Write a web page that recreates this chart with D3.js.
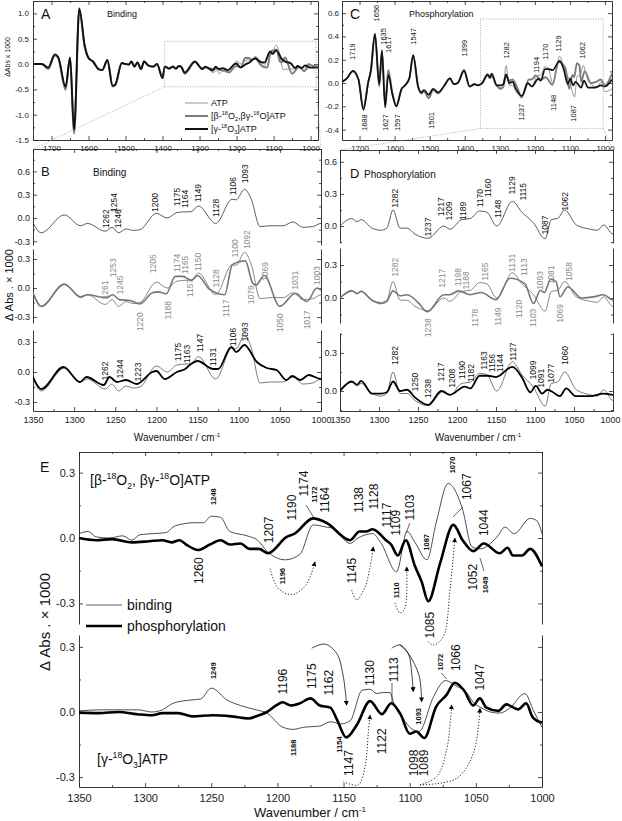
<!DOCTYPE html>
<html><head><meta charset="utf-8">
<script src="https://cdn.jsdelivr.net/npm/d3@7"></script>
<style>
body{margin:0;background:#fff}
svg text{font-family:"Liberation Sans",Arial,sans-serif}
</style></head>
<body><svg id="fig" width="622" height="821"></svg>
<script>
// ---------- data (ΔAbs x 1000 against wavenumber) ----------
// full-range part, 1750..1356 cm-1
const bindAtpHi = [[1750,0.0],[1726,0.0],[1709,-0.08],[1691,0.18],[1682,0.13],[1662,-0.48],[1650,0.12],[1639,-1.34],[1625,1.08],[1610,0.34],[1600,0.12],[1588,0.05],[1573,-0.10],[1563,-0.12],[1549,0.07],[1535,-0.45],[1528,-0.42],[1510,0.02],[1500,0.0],[1491,-0.01],[1484,0.05],[1476,-0.05],[1468,0.03],[1458,-0.10],[1450,0.05],[1438,-0.03],[1425,-0.05],[1415,0.0],[1400,-0.27],[1394,-0.05],[1382,-0.09],[1372,-0.05],[1364,-0.09],[1356,-0.04]];
const bindBetaHi = [[1750,0.0],[1726,0.0],[1709,-0.10],[1691,0.17],[1682,0.12],[1662,-0.51],[1650,0.12],[1639,-1.37],[1625,1.06],[1610,0.33],[1600,0.12],[1588,0.05],[1573,-0.10],[1563,-0.12],[1549,0.07],[1535,-0.44],[1528,-0.42],[1510,0.02],[1500,0.0],[1491,-0.01],[1484,0.05],[1476,-0.05],[1468,0.03],[1458,-0.10],[1450,0.05],[1438,-0.03],[1425,-0.05],[1415,0.0],[1400,-0.27],[1394,-0.05],[1382,-0.09],[1372,-0.05],[1364,-0.09],[1356,-0.04]];
const bindGammaHi = [[1750,0.0],[1726,0.0],[1709,-0.07],[1691,0.19],[1682,0.14],[1662,-0.45],[1650,0.13],[1639,-1.30],[1625,1.10],[1610,0.35],[1600,0.12],[1588,0.05],[1573,-0.10],[1563,-0.12],[1549,0.08],[1535,-0.43],[1528,-0.41],[1510,0.02],[1500,0.0],[1491,-0.01],[1484,0.05],[1476,-0.05],[1468,0.03],[1458,-0.10],[1450,0.05],[1438,-0.03],[1425,-0.05],[1415,0.0],[1400,-0.28],[1394,-0.05],[1382,-0.09],[1372,-0.05],[1364,-0.09],[1356,-0.04]];

const phosAtpHi = [[1750,0.01],[1736,0.04],[1719,0.105],[1703,0.03],[1689,-0.22],[1675,0.01],[1668,0.10],[1656,0.43],[1644,-0.02],[1636,0.27],[1627,-0.19],[1618,0.08],[1606,-0.10],[1595,-0.20],[1580,-0.05],[1570,-0.02],[1558,0.04],[1547,0.24],[1533,-0.03],[1524,-0.08],[1516,-0.06],[1503,-0.11],[1490,-0.05],[1476,-0.09],[1460,-0.03],[1442,0.04],[1431,-0.01],[1420,0.0],[1402,0.11],[1386,-0.03],[1372,-0.01],[1362,-0.02]];
const phosBetaHi = [[1750,0.01],[1736,0.04],[1719,0.10],[1703,0.03],[1689,-0.21],[1675,0.01],[1668,0.10],[1656,0.42],[1644,-0.03],[1636,0.26],[1627,-0.17],[1618,0.11],[1606,-0.09],[1595,-0.19],[1580,-0.05],[1570,-0.02],[1558,0.04],[1547,0.23],[1533,-0.03],[1524,-0.09],[1516,-0.07],[1503,-0.13],[1490,-0.06],[1476,-0.09],[1460,-0.03],[1442,0.04],[1431,-0.01],[1420,0.0],[1402,0.10],[1386,-0.03],[1372,-0.01],[1362,-0.02]];
const phosGammaHi = [[1750,0.01],[1736,0.04],[1719,0.105],[1703,0.03],[1689,-0.23],[1675,0.01],[1668,0.10],[1656,0.42],[1644,-0.01],[1636,0.28],[1627,-0.21],[1618,0.07],[1606,-0.10],[1595,-0.20],[1580,-0.05],[1570,-0.02],[1558,0.04],[1547,0.24],[1533,-0.03],[1524,-0.08],[1516,-0.06],[1503,-0.10],[1490,-0.05],[1476,-0.08],[1460,-0.03],[1442,0.04],[1431,-0.01],[1420,0.0],[1402,0.11],[1386,-0.03],[1372,-0.01],[1362,-0.02]];

// zoomed part, 1350..980 cm-1
const bindAtp = [[1350,-0.06],[1340,-0.19],[1312,0.04],[1292,-0.10],[1284,-0.07],[1262,-0.17],[1254,-0.12],[1246,-0.19],[1237,-0.14],[1228,-0.16],[1220,-0.15],[1200,0.06],[1187,0.0],[1175,0.07],[1164,0.08],[1158,0.08],[1149,0.155],[1128,-0.07],[1108,0.24],[1103,0.235],[1093,0.37],[1085,0.25],[1074,-0.11],[1062,-0.10],[1046,-0.10],[1034,-0.05],[1022,-0.12],[1010,-0.11],[1000,-0.07],[980,-0.07]];
const bindBeta = [[1350,-0.05],[1340,-0.19],[1312,0.04],[1292,-0.09],[1284,-0.07],[1261,-0.10],[1253,-0.07],[1245,-0.12],[1232,-0.13],[1220,-0.165],[1205,-0.05],[1198,-0.04],[1188,-0.06],[1177,0.12],[1168,0.12],[1157,0.08],[1150,0.13],[1136,-0.01],[1128,-0.05],[1117,-0.07],[1108,0.24],[1100,0.27],[1092,0.28],[1083,0.05],[1079,0.03],[1069,0.13],[1050,-0.19],[1031,-0.055],[1017,-0.14],[1005,0.0],[1000,-0.02],[980,-0.05]];
const bindGamma = [[1350,-0.05],[1340,-0.17],[1313,0.05],[1293,-0.10],[1285,-0.05],[1264,-0.13],[1257,-0.05],[1248,-0.10],[1237,-0.08],[1224,-0.12],[1205,0.0],[1200,0.01],[1190,-0.07],[1175,0.0],[1165,0.03],[1158,0.08],[1150,0.11],[1131,0.03],[1125,0.03],[1109,0.25],[1103,0.2],[1093,0.27],[1078,0.10],[1066,0.04],[1054,0.02],[1042,-0.08],[1035,-0.04],[1025,-0.08],[1015,-0.03],[1000,-0.07],[980,-0.07]];

const phosAtp = [[1350,0.0],[1335,0.07],[1328,0.04],[1323,0.06],[1309,-0.02],[1297,-0.04],[1290,-0.02],[1282,0.15],[1273,-0.02],[1264,-0.02],[1254,-0.075],[1237,-0.115],[1217,0.0],[1209,-0.03],[1194,0.06],[1183,0.07],[1171,0.14],[1162,0.13],[1149,0.0],[1129,0.23],[1117,0.13],[1102,0.03],[1087,-0.12],[1079,0.06],[1071,0.07],[1062,0.15],[1047,0.01],[1029,-0.03],[1020,-0.04],[1012,0.01],[1000,-0.075],[980,-0.05]];
const phosBeta = [[1350,0.0],[1335,0.065],[1328,0.04],[1323,0.06],[1309,-0.02],[1297,-0.05],[1290,-0.03],[1282,0.065],[1273,0.02],[1264,0.03],[1250,-0.04],[1238,-0.125],[1217,0.03],[1209,0.03],[1198,0.065],[1183,0.03],[1169,0.05],[1150,-0.015],[1132,0.18],[1113,0.13],[1102,-0.05],[1093,0.07],[1088,0.05],[1080,0.17],[1073,0.15],[1068,0.01],[1058,0.10],[1040,0.0],[1025,0.01],[1012,0.03],[1000,-0.02],[980,0.08]];
const phosGamma = [[1350,0.0],[1335,0.075],[1328,0.05],[1323,0.08],[1309,-0.02],[1297,-0.02],[1290,-0.01],[1282,0.075],[1273,0.0],[1264,0.01],[1254,-0.05],[1237,-0.11],[1220,0.0],[1209,-0.03],[1190,0.035],[1183,0.02],[1171,0.12],[1160,0.12],[1150,0.11],[1129,0.19],[1117,0.11],[1106,-0.01],[1099,0.04],[1091,-0.02],[1084,0.01],[1077,-0.01],[1068,-0.04],[1060,0.02],[1048,-0.04],[1029,-0.04],[1012,-0.02],[1000,-0.03],[980,0.03]];

// panel E
const eBetaBind = [[1350,0.02],[1343,0.03],[1337,0.005],[1327,0.0],[1317,0.01],[1310,-0.01],[1304,0.015],[1294,0.02],[1284,0.025],[1279,0.05],[1271,0.065],[1264,0.07],[1256,0.07],[1250,0.10],[1243,0.095],[1236,0.03],[1223,0.01],[1215,-0.01],[1208,-0.06],[1194,-0.10],[1183,-0.075],[1173,0.06],[1163,0.05],[1158,0.045],[1145,-0.025],[1139,0.0],[1128,0.02],[1122,-0.02],[1110,-0.155],[1102,0.03],[1096,-0.02],[1087,-0.10],[1080,0.07],[1071,0.25],[1060,0.13],[1053,-0.04],[1047,-0.05],[1034,0.005],[1028,0.05],[1021,0.02],[1009,0.09],[1004,0.08],[1000,0.02]];
const eBetaPhos = [[1350,0.0],[1337,-0.01],[1325,-0.005],[1310,-0.02],[1297,-0.015],[1287,-0.01],[1280,-0.02],[1274,-0.01],[1269,-0.03],[1260,-0.055],[1251,-0.03],[1243,-0.01],[1236,-0.03],[1228,-0.025],[1221,-0.05],[1214,-0.05],[1207,-0.07],[1193,0.005],[1187,0.02],[1173,0.09],[1163,0.07],[1145,-0.01],[1138,0.03],[1133,0.03],[1128,0.04],[1118,-0.01],[1114,-0.03],[1109,-0.08],[1103,-0.01],[1096,-0.13],[1091,-0.20],[1086,-0.29],[1077,-0.115],[1067,0.06],[1060,-0.01],[1052,-0.06],[1044,-0.025],[1032,-0.07],[1026,-0.045],[1022,-0.08],[1015,-0.08],[1009,-0.05],[1000,-0.13]];
const eGammaBind = [[1350,0.005],[1335,0.01],[1315,0.01],[1305,0.01],[1295,0.0],[1287,0.01],[1279,0.04],[1266,0.055],[1258,0.06],[1250,0.11],[1238,0.055],[1228,0.03],[1216,0.01],[1208,-0.005],[1196,-0.07],[1188,-0.08],[1180,-0.07],[1168,-0.065],[1160,-0.045],[1152,-0.055],[1145,-0.04],[1136,0.10],[1130,0.105],[1125,0.085],[1120,0.09],[1115,0.09],[1112,0.04],[1107,-0.01],[1100,-0.07],[1093,-0.09],[1082,0.07],[1073,0.145],[1065,0.12],[1057,0.09],[1052,0.045],[1046,0.02],[1039,0.0],[1032,-0.005],[1024,0.02],[1013,0.085],[1006,0.0],[1000,-0.07]];
const eGammaPhos = [[1350,-0.003],[1335,-0.005],[1320,0.0],[1306,-0.01],[1295,-0.015],[1287,-0.005],[1275,-0.005],[1264,-0.02],[1249,-0.015],[1235,-0.02],[1222,-0.03],[1216,-0.02],[1208,0.0],[1201,0.03],[1196,0.045],[1190,0.03],[1183,0.04],[1175,0.063],[1168,0.03],[1160,0.02],[1155,-0.035],[1148,-0.117],[1140,-0.06],[1130,0.05],[1121,-0.01],[1114,0.04],[1107,-0.01],[1100,-0.10],[1095,-0.09],[1089,-0.12],[1080,0.025],[1072,0.08],[1066,0.135],[1059,0.10],[1052,0.03],[1047,0.063],[1042,0.02],[1033,0.005],[1027,0.035],[1018,0.012],[1012,0.04],[1007,-0.025],[1000,-0.05]];

// band labels: [text, wavenumber, value at label centre]
const labelsC = [["1719",1719,0.27],["1656",1653,0.60],["1635",1633,0.40],["1617",1616,0.33],["1547",1545,0.40],["1399",1402,0.30],["1282",1282,0.28],["1194",1194,0.155],["1170",1171,0.27],["1129",1134,0.34],["1062",1063,0.28],["1688",1687,-0.34],["1627",1625,-0.34],["1597",1593,-0.34],["1501",1496,-0.32],["1237",1239,-0.25],["1148",1148,-0.17],["1087",1091,-0.26]];
const labelsB1 = [["1262",1261,-0.01],["1254",1252,0.2],["1246",1247,-0.01],["1200",1202,0.2],["1175",1175,0.27],["1164",1165,0.245],["1149",1149,0.32],["1128",1128,0.13],["1106",1107,0.41],["1093",1092,0.57]];
const labelsB2 = [["1261",1262,-0.02],["1253",1253,0.21],["1245",1244,0.03],["1220",1220,-0.35],["1205",1204,0.25],["1188",1186,-0.23],["1174",1175,0.26],["1165",1165,0.24],["1150",1150,0.27],["1157",1159,0.0],["1128",1128,0.10],["1117",1116,-0.21],["1100",1105,0.41],["1092",1090,0.50],["1079",1085,-0.07],["1069",1068,0.17],["1050",1050,-0.36],["1031",1032,0.08],["1017",1017,-0.33],["1003",1005,0.13]];
const labelsB3 = [["1262",1262,0.01],["1244",1244,0.03],["1223",1223,0.0],["1175",1174,0.2],["1163",1163,0.18],["1147",1147,0.29],["1131",1131,0.15],["1106",1107,0.35],["1093",1092,0.40]];
const labelsD1 = [["1282",1280,0.26],["1237",1237,-0.01],["1217",1220,0.18],["1209",1210,0.14],["1189",1192,0.14],["1170",1171,0.26],["1160",1160,0.355],["1148",1147,0.16],["1129",1129,0.38],["1115",1116,0.32],["1087",1087,0.01],["1062",1062,0.23]];
const labelsD2 = [["1282",1280,0.28],["1238",1237,-0.27],["1217",1219,0.18],["1198",1199,0.19],["1188",1188,0.16],["1165",1164,0.24],["1178",1177,-0.18],["1149",1147,-0.17],["1131",1130,0.32],["1113",1114,0.28],["1120",1121,-0.10],["1103",1102,-0.18],["1093",1093,0.16],["1081",1080,0.21],["1069",1068,-0.14],["1058",1057,0.24]];
const labelsD3 = [["1282",1280,0.28],["1250",1254,0.07],["1238",1237,0.02],["1217",1220,0.15],["1208",1207,0.10],["1190",1194,0.165],["1182",1182,0.14],["1163",1166,0.24],["1156",1155,0.22],["1144",1145,0.22],["1127",1128,0.31],["1099",1102,0.165],["1091",1092,0.10],["1077",1079,0.14],["1060",1062,0.28]];
const labelsE1 = [["1207",1206,0.037],["1190",1189,0.14],["1174",1180,0.25],["1164",1164,0.175],["1138",1138,0.175],["1128",1127,0.19],["1117",1117,0.105],["1109",1110,0.07],["1103",1100,0.14],["1145",1144,-0.15],["1085",1085,-0.40],["1067",1057,0.235],["1044",1044,0.07],["1052",1052,-0.18],["1260",1259,-0.15]];
const smallE1 = [["1248",1248,0.19],["1172",1172,0.2],["1110",1110,-0.24],["1087",1087,-0.02],["1070",1068,0.335],["1049",1043,-0.215],["1196",1196,-0.175]];
const labelsE2 = [["1196",1196,0.14],["1175",1174,0.165],["1162",1161,0.135],["1130",1130,0.18],["1113",1112,0.195],["1066",1065,0.25],["1047",1047,0.16],["1147",1146,-0.235],["1122",1121,-0.135],["1098",1097,-0.235],["1089",1089,-0.235]];
const smallE2 = [["1249",1248.5,0.19],["1072",1077,0.23],["1188",1188,-0.165],["1154",1153,-0.15],["1093",1093,-0.02]];

// leader lines [wn1, v1, wn2, v2]
const leadersE1 = [[1178.4,0.151,1172.4,0.092],[1099.8,0.069,1102.8,0.023],[1059.8,0.142,1067.3,0.096],[1046.9,-0.092,1043.9,-0.151]];
const leadersE2 = [[1113.4,0.134,1113.4,0.046],[1075.9,0.18,1072.1,0.152]];

// arrows (dotted / solid) in E
const arrowsE1 = [
  [[1205.6,-0.14],[1199.6,-0.23],[1189,-0.26],[1178.4,-0.215],[1171.6,-0.11]],
  [[1143.9,-0.239],[1140.1,-0.284],[1133.8,-0.225],[1130,-0.133],[1127.5,-0.041]],
  [[1111.2,-0.298],[1107.4,-0.344],[1103.6,-0.321],[1102.3,-0.133]],
  [[1086,-0.476],[1082.2,-0.491],[1074.6,-0.453],[1069.6,-0.239],[1065.8,0.0]]
];
const solidArrowsE2 = [
  [[1174.1,0.294],[1164.1,0.313],[1155.2,0.27],[1150.2,0.163],[1147.7,0.032]],
  [[1113.6,0.294],[1107.4,0.309],[1101.1,0.27],[1098.5,0.178],[1097.3,0.094]],
  [[1107.4,0.309],[1101.1,0.27],[1093,0.17],[1091,0.047]]
];
const dottedArrowsE2 = [
  [[1150.2,-0.321],[1138.9,-0.336],[1133.8,-0.252],[1131.3,-0.098],[1130,-0.014]],
  [[1092.3,-0.336],[1079.6,-0.298],[1072.1,-0.175],[1068.3,0.032]],
  [[1092.3,-0.336],[1064.5,-0.306],[1051.9,-0.19],[1046.9,0.017]]
];

// ticks
const wideMajor = [1700,1600,1500,1400,1300,1200,1100,1000];
const wideMinor = [1750,1650,1550,1450,1350,1250,1150,1050];
const zoomMajor = [1350,1300,1250,1200,1150,1100,1050,1000];
const zoomMinor = [1325,1275,1225,1175,1125,1075,1025];
const ticksAy = [-1.5,-1.0,-0.5,0.0,0.5,1.0];
const minorAy = [-1.25,-0.75,-0.25,0.25,0.75];
const ticksCy = [-0.4,-0.2,0.0,0.2,0.4,0.6];
const minorCy = [-0.3,-0.1,0.1,0.3,0.5];

// ---------- drawing ----------
const svg = d3.select("#fig");
const NARROW = '"Liberation Sans Narrow","Liberation Sans",Arial,sans-serif';
const SANS = '"Liberation Sans",Arial,sans-serif';
const f1 = v => v.toFixed(1);

const defs = svg.append("defs");
defs.append("marker").attr("id", "ah").attr("viewBox", "0 0 8 8")
  .attr("refX", 7).attr("refY", 4).attr("markerWidth", 5).attr("markerHeight", 5)
  .attr("orient", "auto").attr("markerUnits", "userSpaceOnUse")
  .append("path").attr("d", "M0,0L8,4L0,8z").attr("fill", "#000");

function clip(id, x0, x1) {
  defs.append("clipPath").attr("id", id).append("rect")
    .attr("x", x0).attr("y", 0).attr("width", x1 - x0).attr("height", 821);
}
function yScale(zero, k, top, bottom) {
  return d3.scaleLinear().domain([(zero - bottom) / k, (zero - top) / k]).range([bottom, top]);
}
function styleAxis(a, fs, fam) {
  a.attr("font-size", fs).attr("font-family", fam);
  a.selectAll("path.domain").attr("stroke", "#222").attr("stroke-width", 0.9);
  a.selectAll("line").attr("stroke", "#222").attr("stroke-width", 0.8);
  a.selectAll("text").attr("fill", "#222");
}
function hAxes(g, x, yb, yt, major, minor, fs, fam, pad) {
  const b = g.append("g").attr("transform", `translate(0,${yb})`)
    .call(d3.axisBottom(x).tickValues(major).tickSizeInner(-4).tickSizeOuter(0).tickPadding(pad).tickFormat(d => d));
  b.append("g").call(d3.axisBottom(x).tickValues(minor).tickSizeInner(-2).tickSizeOuter(0).tickFormat(""))
    .select(".domain").remove();
  styleAxis(b, fs, fam);
  const t = g.append("g").attr("transform", `translate(0,${yt})`)
    .call(d3.axisTop(x).tickValues(major).tickSizeInner(-4).tickSizeOuter(0).tickFormat(""));
  t.append("g").call(d3.axisTop(x).tickValues(minor).tickSizeInner(-2).tickSizeOuter(0).tickFormat(""))
    .select(".domain").remove();
  styleAxis(t, fs, fam);
  return b;
}
function vAxes(g, y, xl, xr, major, minor, fs, fam, pad) {
  const l = g.append("g").attr("transform", `translate(${xl},0)`)
    .call(d3.axisLeft(y).tickValues(major).tickSizeInner(-4).tickSizeOuter(0).tickPadding(pad).tickFormat(f1));
  l.append("g").call(d3.axisLeft(y).tickValues(minor).tickSizeInner(-2).tickSizeOuter(0).tickFormat(""))
    .select(".domain").remove();
  styleAxis(l, fs, fam);
  const r = g.append("g").attr("transform", `translate(${xr},0)`)
    .call(d3.axisRight(y).tickValues(major).tickSizeInner(-4).tickSizeOuter(0).tickFormat(""));
  r.append("g").call(d3.axisRight(y).tickValues(minor).tickSizeInner(-2).tickSizeOuter(0).tickFormat(""))
    .select(".domain").remove();
  styleAxis(r, fs, fam);
}
function drawLine(g, x, y, data, color, w, clipId) {
  g.append("path").datum(data)
    .attr("fill", "none").attr("stroke", color).attr("stroke-width", w)
    .attr("stroke-linejoin", "round")
    .attr("clip-path", clipId ? `url(#${clipId})` : null)
    .attr("d", d3.line().x(d => x(d[0])).y(d => y(d[1])).curve(d3.curveMonotoneX));
}
function vLabels(g, x, y, list, fs, color, fam, weight) {
  g.selectAll(null).data(list).join("text")
    .attr("transform", d => `translate(${x(d[1])},${y(d[2])}) rotate(-90)`)
    .attr("text-anchor", "middle").attr("dominant-baseline", "central")
    .attr("font-size", fs).attr("font-family", fam).attr("fill", color)
    .attr("font-weight", weight || null)
    .text(d => d[0]);
}
function rich(g, x, y, parts, fs, anchor) {
  const t = g.append("text").attr("x", x).attr("y", y).attr("font-size", fs)
    .attr("text-anchor", anchor || "start").attr("fill", "#111");
  let off = 0;
  parts.forEach(p => {
    let txt = p, shift = 0, small = false;
    if (Array.isArray(p)) { txt = p[0]; shift = p[1] === "sup" ? -0.4 * fs : 0.25 * fs; small = true; }
    t.append("tspan").attr("dy", shift - off).attr("font-size", small ? fs * 0.62 : fs).text(txt);
    off = shift;
  });
  return t;
}
function plainText(g, x, y, txt, fs, fam, extra) {
  const t = g.append("text").attr("x", x).attr("y", y).attr("font-size", fs)
    .attr("font-family", fam).attr("fill", "#111").text(txt);
  if (extra) extra(t);
  return t;
}
const betaName = ["[β-", ["18","sup"], "O", ["2","sub"], ",βγ-", ["18","sup"], "O]ATP"];
const betaNameE = ["[β-", ["18","sup"], "O", ["2","sub"], ", βγ-", ["18","sup"], "O]ATP"];
const gammaName = ["[γ-", ["18","sup"], "O", ["3","sub"], "]ATP"];

// ---- panel A ----
const gA = svg.append("g");
const xA = d3.scaleLinear().domain([1750, 980]).range([33, 318]);
const yA = d3.scaleLinear().domain([-1.5, 1.245]).range([140, 1]);
clip("clipA", 33, 318);
hAxes(gA, xA, 140, 1, wideMajor, wideMinor, 8, SANS, 5);
vAxes(gA, yA, 33, 318, ticksAy, minorAy, 8, SANS, 4);
drawLine(gA, xA, yA, bindBetaHi.concat(bindBeta), "#7d7d7d", 2.0, "clipA");
drawLine(gA, xA, yA, bindAtpHi.concat(bindAtp), "#8c8c8c", 0.9, "clipA");
drawLine(gA, xA, yA, bindGammaHi.concat(bindGamma), "#111", 1.9, "clipA");
gA.append("rect").attr("x", xA(1395)).attr("y", yA(0.45))
  .attr("width", xA(985) - xA(1395)).attr("height", yA(-0.45) - yA(0.45))
  .attr("fill", "none").attr("stroke", "#999").attr("stroke-width", 0.8).attr("stroke-dasharray", "1,1.5");
plainText(gA, 41, 19, "A", 14, SANS);
plainText(gA, 107, 17, "Binding", 9, SANS);
plainText(gA, 0, 0, "ΔAbs x 1000", 7, SANS, t => t.attr("transform", "translate(10,57) rotate(-90)").attr("text-anchor", "middle"));
[["#8c8c8c", 0.9, 103, ["ATP"]], ["#7d7d7d", 2.0, 116, betaName], ["#111", 2.0, 129, gammaName]].forEach(([c, w, yy, parts]) => {
  gA.append("line").attr("x1", 185).attr("x2", 208).attr("y1", yy).attr("y2", yy).attr("stroke", c).attr("stroke-width", w);
  rich(gA, 211, yy + 3, parts, 9);
});

// ---- panel C ----
const gC = svg.append("g");
const xC = d3.scaleLinear().domain([1750, 980]).range([342, 612]);
const yC = d3.scaleLinear().domain([-0.489, 0.704]).range([140, 1]);
clip("clipC", 342, 612);
hAxes(gC, xC, 140, 1, wideMajor, wideMinor, 8, SANS, 5);
vAxes(gC, yC, 342, 612, ticksCy, minorCy, 8, SANS, 3);
drawLine(gC, xC, yC, phosBetaHi.concat(phosBeta), "#7d7d7d", 1.9, "clipC");
drawLine(gC, xC, yC, phosAtpHi.concat(phosAtp), "#8c8c8c", 0.9, "clipC");
drawLine(gC, xC, yC, phosGammaHi.concat(phosGamma), "#111", 1.7, "clipC");
gC.append("rect").attr("x", xC(1355)).attr("y", yC(0.55))
  .attr("width", xC(1005) - xC(1355)).attr("height", yC(-0.39) - yC(0.55))
  .attr("fill", "none").attr("stroke", "#999").attr("stroke-width", 0.8).attr("stroke-dasharray", "1,1.5");
vLabels(gC, xC, yC, labelsC, 7.5, "#111", SANS);
plainText(gC, 350, 19, "C", 14, SANS);
plainText(gC, 409, 17, "Phosphorylation", 9, SANS);

// ---- panel B ----
const gB = svg.append("g");
const xB = d3.scaleLinear().domain([1350, 1000]).range([33, 321]);
const yB1 = yScale(218, 77.7, 149, 245);
const yB2 = yScale(288, 96.7, 249, 323);
const yB3 = yScale(372, 100, 330, 411);
clip("clipB", 33, 321);
hAxes(gB, xB, 411, 149, zoomMajor, zoomMinor, 9, NARROW, 6);
vAxes(gB, yB1, 33, 321, [-0.3, 0, 0.3, 0.6], [-0.15, 0.15, 0.45, 0.75], 9, NARROW, 3);
vAxes(gB, yB2, 33, 321, [-0.3, 0, 0.3], [-0.15, 0.15], 9, NARROW, 3);
vAxes(gB, yB3, 33, 321, [-0.3, 0, 0.3], [-0.15, 0.15], 9, NARROW, 3);
drawLine(gB, xB, yB1, bindAtp, "#333", 0.8, "clipB");
drawLine(gB, xB, yB2, bindAtp, "#555", 0.7, "clipB");
drawLine(gB, xB, yB2, bindBeta, "#777", 1.6, "clipB");
drawLine(gB, xB, yB3, bindAtp, "#444", 0.7, "clipB");
drawLine(gB, xB, yB3, bindGamma, "#000", 1.8, "clipB");
vLabels(gB, xB, yB1, labelsB1, 8.5, "#111", NARROW);
vLabels(gB, xB, yB2, labelsB2, 8.5, "#8a8a8a", NARROW);
vLabels(gB, xB, yB3, labelsB3, 8.5, "#111", NARROW);
gB.append("line").attr("x1", xB(1256)).attr("x2", xB(1242)).attr("y1", yB1(0.1)).attr("y2", yB1(0.1))
  .attr("stroke", "#222").attr("stroke-width", 0.6);
plainText(gB, 41, 176, "B", 13, SANS);
plainText(gB, 93, 176, "Binding", 10, NARROW);
plainText(gB, 0, 0, "Δ Abs .  × 1000", 11, NARROW, t => t.attr("transform", "translate(13,285) rotate(-90)").attr("text-anchor", "middle"));
rich(gB, 177, 441, ["Wavenumber / cm", ["-1", "sup"]], 10, "middle").attr("font-family", NARROW);

// ---- panel D ----
const gD = svg.append("g");
const xD = d3.scaleLinear().domain([1350, 1000]).range([340, 613]);
const yD1 = yScale(226, 107, 150, 243);
const yD2 = yScale(298, 110, 248, 323);
const yD3 = yScale(391, 127, 333, 411);
clip("clipD", 340, 613);
const dBottom = hAxes(gD, xD, 411, 150, zoomMajor, zoomMinor, 9, NARROW, 6);
dBottom.selectAll(".tick text").filter(d => d === 1000).attr("dx", -3);
vAxes(gD, yD1, 340, 613, [0, 0.3, 0.6], [-0.15, 0.15, 0.45], 9, NARROW, 3);
vAxes(gD, yD2, 340, 613, [0, 0.3], [-0.15, 0.15], 9, NARROW, 3);
vAxes(gD, yD3, 340, 613, [0, 0.3], [-0.15, 0.15, 0.45], 9, NARROW, 3);
drawLine(gD, xD, yD1, phosAtp, "#333", 0.8, "clipD");
drawLine(gD, xD, yD2, phosAtp, "#555", 0.7, "clipD");
drawLine(gD, xD, yD2, phosBeta, "#777", 1.6, "clipD");
drawLine(gD, xD, yD3, phosAtp, "#444", 0.7, "clipD");
drawLine(gD, xD, yD3, phosGamma, "#000", 1.8, "clipD");
vLabels(gD, xD, yD1, labelsD1, 8.5, "#111", NARROW);
vLabels(gD, xD, yD2, labelsD2, 8.5, "#8a8a8a", NARROW);
vLabels(gD, xD, yD3, labelsD3, 8.5, "#111", NARROW);
plainText(gD, 350, 178, "D", 13, SANS);
plainText(gD, 364, 178, "Phosphorylation", 10, NARROW);
rich(gD, 478, 441, ["Wavenumber / cm", ["-1", "sup"]], 10, "middle").attr("font-family", NARROW);

// zoom connectors
const dotted = (x1, y1, x2, y2) => svg.append("line").attr("x1", x1).attr("y1", y1).attr("x2", x2).attr("y2", y2)
  .attr("stroke", "#999").attr("stroke-width", 0.8).attr("stroke-dasharray", "1,1.5");
dotted(xA(1395), yA(-0.45), xB(1350), 149);
dotted(xA(985), yA(-0.45), xB(1000), 149);
dotted(xC(1355), yC(-0.39), xD(1350), 150);
dotted(xC(1005), yC(-0.39), xD(1000), 150);

// ---- panel E ----
const gE = svg.append("g");
const xE = d3.scaleLinear().domain([1350, 1000]).range([79, 542]);
const yE1 = yScale(538, 218, 452, 624);
const yE2 = yScale(712, 217, 635, 787);
hAxes(gE, xE, 787, 452, zoomMajor, zoomMinor, 11, SANS, 7);
vAxes(gE, yE1, 79, 542, [-0.3, 0, 0.3], [-0.15, 0.15], 11, SANS, 4);
vAxes(gE, yE2, 79, 542, [-0.3, 0, 0.3], [-0.15, 0.15], 11, SANS, 4);
drawLine(gE, xE, yE1, eBetaBind, "#222", 0.8);
drawLine(gE, xE, yE1, eBetaPhos, "#000", 2.6);
drawLine(gE, xE, yE2, eGammaBind, "#222", 0.8);
drawLine(gE, xE, yE2, eGammaPhos, "#000", 2.6);
vLabels(gE, xE, yE1, labelsE1, 12, "#111", SANS);
vLabels(gE, xE, yE1, smallE1, 7.5, "#111", SANS, "bold");
vLabels(gE, xE, yE2, labelsE2, 12, "#111", SANS);
vLabels(gE, xE, yE2, smallE2, 7.5, "#111", SANS, "bold");
[[leadersE1, yE1], [leadersE2, yE2]].forEach(([list, y]) => {
  gE.selectAll(null).data(list).join("line")
    .attr("x1", d => xE(d[0])).attr("y1", d => y(d[1])).attr("x2", d => xE(d[2])).attr("y2", d => y(d[3]))
    .attr("stroke", "#222").attr("stroke-width", 0.7);
});
const arrowLine = (y) => d3.line().x(d => xE(d[0])).y(d => y(d[1])).curve(d3.curveCatmullRom);
[[arrowsE1, yE1, true], [dottedArrowsE2, yE2, true], [solidArrowsE2, yE2, false]].forEach(([list, y, isDot]) => {
  gE.selectAll(null).data(list).join("path")
    .attr("d", arrowLine(y)).attr("fill", "none").attr("stroke", "#111")
    .attr("stroke-width", isDot ? 0.9 : 0.8).attr("stroke-dasharray", isDot ? "1.2,1.8" : null)
    .attr("marker-end", "url(#ah)");
});
plainText(gE, 40, 472, "E", 14, SANS);
rich(gE, 90, 485, betaNameE, 14);
rich(gE, 97, 764, gammaName, 14);
gE.append("line").attr("x1", 86).attr("x2", 122).attr("y1", 605).attr("y2", 605).attr("stroke", "#333").attr("stroke-width", 0.8);
gE.append("line").attr("x1", 86).attr("x2", 122).attr("y1", 626).attr("y2", 626).attr("stroke", "#000").attr("stroke-width", 2.6);
plainText(gE, 127, 610, "binding", 14, SANS);
plainText(gE, 127, 631, "phosphorylation", 14, SANS);
plainText(gE, 0, 0, "Δ Abs .  × 1000", 15, SANS, t => t.attr("transform", "translate(50,622) rotate(-90)").attr("text-anchor", "middle"));
rich(gE, 310, 817, ["Wavenumber / cm", ["-1", "sup"]], 13, "middle");
</script>
</body></html>
